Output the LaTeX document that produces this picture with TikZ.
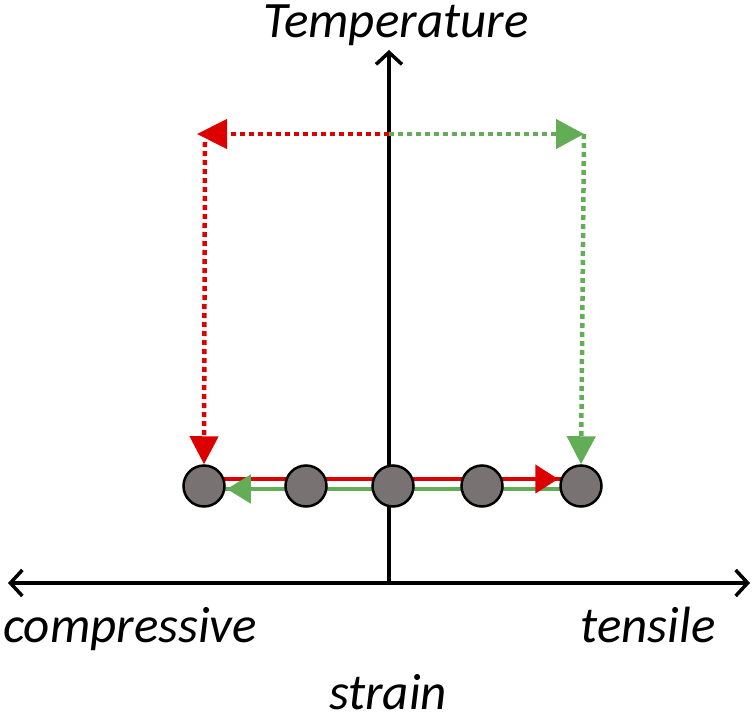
\documentclass[tikz,border=0pt]{standalone}
\usepackage{fontspec}
\setmainfont{Carlito}
\usetikzlibrary{arrows.meta,backgrounds}
\definecolor{myred}{HTML}{DD0000}
\definecolor{mygreen}{HTML}{62AD55}
\definecolor{ballgray}{HTML}{787372}
\tikzset{
  axis/.style={line width=3.5pt,{Straight Barb[length=12pt,width=26pt]}-{Straight Barb[length=12pt,width=26pt]}},
  axisup/.style={line width=3.5pt,-{Straight Barb[length=12pt,width=26pt]}},
  ball/.style={circle,draw=black,line width=2.5pt,fill=ballgray,minimum size=41pt,inner sep=0pt},
  dotline/.style={line width=4.5pt,dash pattern=on 5pt off 4pt},
  solidline/.style={line width=4.5pt},
  lbl/.style={font=\fontsize{51}{60}\selectfont\itshape,anchor=base,inner sep=0pt,text depth=0pt}
}
\begin{document}
\begin{tikzpicture}[x=1pt,y=-1pt]
\useasboundingbox (0,0) rectangle (755,720);
% balls
\node[ball] (c1) at (204,486) {};
\node[ball] (c2) at (306,486) {};
\node[ball] (c3) at (393,486) {};
\node[ball] (c4) at (482,486) {};
\node[ball] (c5) at (581,486) {};
% axes
\coordinate (o) at (389,583);
\coordinate (xl) at (8,583);
\coordinate (xr) at (750,583);
\coordinate (yt) at (389,50);
% dotted corners
\coordinate (top) at (389,134);
\coordinate (rl) at (197,134);
\coordinate (rv) at (205,134);
\coordinate (gr) at (584,134);
\begin{scope}[on background layer]
\draw[axis] (xl) -- (xr);
\draw[axisup] (o) -- (yt);
\draw[solidline,myred] ([yshift=7pt]c1.center) -- ([yshift=7pt]c5.center);
\draw[solidline,mygreen] ([yshift=-3pt]c1.center) -- ([yshift=-3pt]c5.center);
\end{scope}
% solid arrowheads
\draw[solidline,myred,-{Triangle[length=23pt,width=28pt]}] ([yshift=7pt]c4.east) -- ([yshift=7pt,xshift=-1pt]c5.west);
\draw[solidline,mygreen,-{Triangle[length=24pt,width=28pt]}] ([yshift=-3pt]c2.west) -- ([yshift=-3pt,xshift=1pt]c1.east);
% dotted paths
\draw[dotline,myred,-{Triangle[length=30pt,width=29pt]}] (top) -- (rl);
\draw[dotline,myred,-{Triangle[length=28pt,width=28pt]}] ([yshift=-8pt]rv) -- (c1.north);
\draw[dotline,mygreen,-{Triangle[length=28pt,width=29pt]}] (top) -- (gr);
\draw[dotline,mygreen,-{Triangle[length=28pt,width=28pt]}] (gr) -- (c5.north);
% labels
\node[lbl] (tT) at (396,37) {Temperature};
\node[lbl] (tC) at (130,642) {compressive};
\node[lbl] (tS) at (648,642) {tensile};
\node[lbl] (tX) at (388,709) {strain};
\end{tikzpicture}
\end{document}
